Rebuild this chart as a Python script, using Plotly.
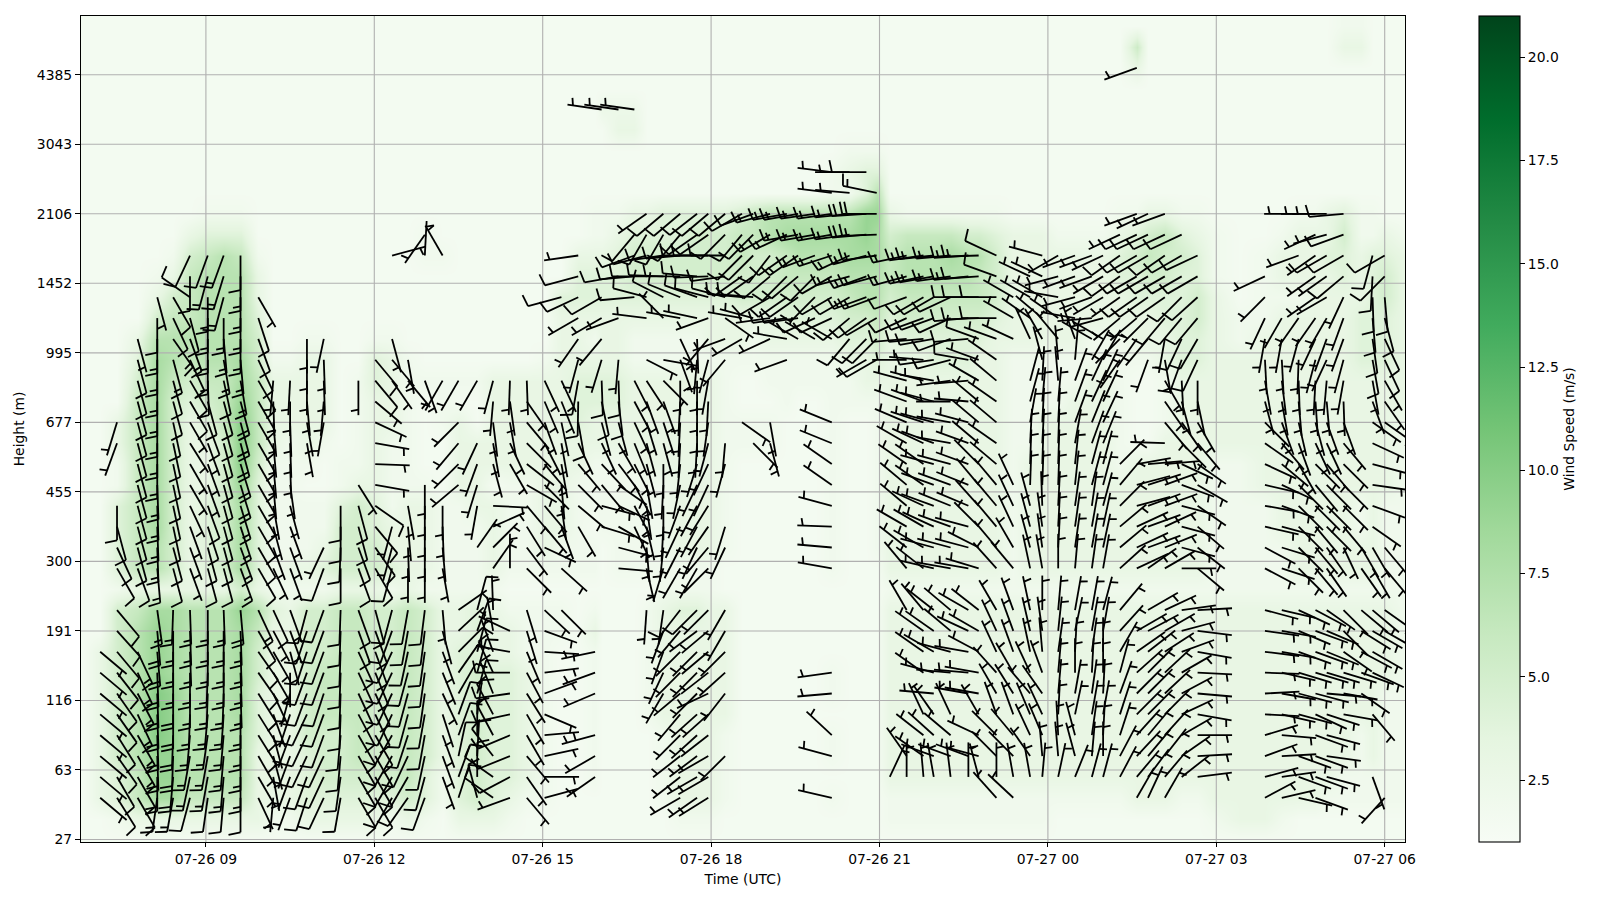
import math
from datetime import datetime, timedelta
import plotly.graph_objects as go

_ = None
b = 1.5

# sampling times of each profile column, minutes after 07-26 00:00
col_minutes = [410,427,445,467,488,505,523,542,559,577,596,612,630,648,666,684,703,721,739,756,774,
               793,810,830,847,865,883,902,920,938,956,963,981,998,1011,1029,1047,1065,1077,1095,1113,
               1125,1143,1161,1173,1191,1209,1228,1246,1257,1271,1289,1307,1318,1336,1355,1366,1385,1403,1421,1434,
               1451,1469,1487,1499,1517,1535,1547,1565,1583,1600,1618,1645,1672,1690,1708,1726,1738,1756,1775,1787,
               1800,1822]
height_labels = [27,63,116,191,300,455,677,995,1452,2106,3043,4385]
time_tick_minutes = [540,720,900,1080,1260,1440,1620,1800]

# wind direction (deg, the way the staff points) per column: {level: [values going down three levels at a time]}
d01 = {27:[130,130,130,130,130,130,130,130]}
d02 = {60:[197,200],48:[180,165,155,150],33:[140,138,140,142,145,145,148,145,150,148]}
d03 = {72:[165,165,165,165,165,165,165,165,165,165,165,160],27:[155,155,152,155,150,150,150,150]}
d04 = {78:[165,180,180,180,180,180,180,180,180,178,178,178,178,175],33:[172,175,175,178,178,178,178,178,180,188]}
d05 = {78:[150,155,145,165,165,165,168,168,168,168,168,168,165,165],33:[182,180,180,180,180,180,182,182,185,190]}
d06 = {84:[205,180,305,165,160,155,150,150,150,148,150,150,155,160,160,160],33:[178,178,178,180,180,182,185,190,192,195]}
d07 = {84:[200,195,180,180,180,180,178,165,160,160,160,160,160,162,165,165],33:[180,180,180,182,182,185,188,190,190,188]}
d08 = {84:[200,197,195,180,175,170,168,165,165,165,165,165,165,165,165,165],33:[178,180,180,180,182,184,185,185,185,185]}
d09 = {84:[180,180,180,180,180,175,170,165,165,165,163,163,163,162,160,160],33:[175,178,178,178,178,180,180,180,180,180]}
d10 = {78:[150,162,160,155,150,150,150,150,150,150,150,150,150,150],33:[155,150,145,145,148,148,148,150,150,155]}
d11 = {66:[185,178,175,175,175,175,170,165,160,155],33:[155,152,150,150,155,160,165,165,170,185]}
d12 = {66:[183,180,178,178,178,172,165,160,160,160],33:[160,160,165,180,195,198,200,200,200,200]}
d13 = {72:[180,180,180,175,170,170],33:[195,198,198,200,200,205,205,205,200,198]}
d14 = {72:[192,178,178,185,190],42:[205,200],33:[200,200,200,200,198,200,200,205,205,205]}
d15 = {48:[180,180,182,180],33:[182,182,182,182,182,182,185,185,188,190]}
d16 = {66:[180],51:[148,165,165,160,160],33:[160,160,155,155,155,152,150,150,150,150]}
d17 = {69:[140,140,130,115,100,92,100,125,140,145,150],33:[165,160,160,158,155,155,150,150,150,150]}
d18 = {84:[75],72:[165,140,145],45:[195,195,195],33:[195,200,205,205,205,205,210,210,210,210]}
d19 = {69:[170,140],48:[170,175,178,180],33:[190,190,192,195,195,195,198,205,210,215]}
d20 = {87:[215,3],66:[160],51:[180,180,180,180,180],33:[187,187,188,188,188,190,190,192,195,200]}
d21 = {84:[330],66:[210],48:[180,178,175,170],33:[175,165,160,158,155,162,160,160,160]}
d22 = {66:[210],60:[225,220,225,230],33:[55,47,45,35,30,20,20,12,20,18]}
d23 = {66:[210],57:[205,200,197,190],42:[35],33:[15,20,15,15,15,8,0,3,0,345]}
d24 = {66:[195,185,173,170,165],48:[93,66,45,35],33:[358,350,340,335,338,332,332,322,305,305]}
d25 = {66:[182,172,170,155,150],39:[0],30:[295,280,270,262,258,247,248,242,250]}
d26 = {66:[178,145,140,135,128,120,140,148,143,135],33:[163,163,157,152,148,150,150,140,145,140]}
d27 = {66:[155,157,160,153,140,135,140,140,115],33:[133,110,94,83,70,113,85,78,90,75]}
d28 = {78:[255],66:[155,158,168,170,170,175,172,160],39:[132],33:[135]}
d29 = {84:[262,255,245,240,215,195,190,181,170,155,140,135,130,150]}
d30 = {27:[258,250,247],15:[255,240,235]}
d31 = {105:[278],78:[240,240,220,197,178,168,165,155,137,140,105,107]}
d32 = {105:[278],81:[260],75:[250],69:[185,178,173,165,150,143,125,115,120,105,95]}
d33 = {105:[278],87:[220,250,265,265],66:[153,152,155,158,153,152,152,155]}
d34 = {90:[235,210,255,270,285,277],69:[117,147,160,163,165,165,170,172,167,175,167],33:[184]}
d35 = {90:[230,210,262,272,297,315],69:[100,135,160,162,165,180,183,180,183,186,197],33:[188,200,200,205,210]}
d36 = {90:[230,220,265,270,292,280,155,160,180,183,183,183,186,192,200,205,207,210],33:[218,220,225,225,230,220,225,232,232,240]}
d37 = {90:[232,235,270,275,290,282,178,185,180,180,180,183,197,205,208,208,205,210],33:[225,233,225,225,225,228,228,233,240,235]}
d38 = {90:[230,235,270,268,285,250,220,195,190,183,188,195,205,205,212,215,220,225],33:[225,230,230,232,245,228,232,240,240,238]}
d39 = {90:[230,225,270,262,285,125,250,220],57:[185,195],45:[197,205],33:[210,210,225,228,218],12:[225]}
d40 = {90:[240,220,225,235,275,280,240],60:[125]}
d41 = {90:[250,225,225,235,275,285],57:[135]}
d42 = {90:[255,240,218,230,240,262,245],60:[170,165]}
d43 = {90:[260,245,235,225,235,262,280,250]}
d44 = {90:[260,260,235,230,235,262,300]}
d45 = {90:[262,260,250,225,225,245,300]}
d46 = {96:[277,277,262,260,252,240,240,245,300],60:[292,292,305,305,285,272,275,280],24:[262,265],15:[313,285],6:[283]}
d47 = {96:[270,275,264,262,245,255,240,230,220]}
d48 = {96:[270],90:[266,265,255,250,250,235,225,240]}
d49 = {93:[282,270,268,262,255,250,240,225,240]}
d50 = {9:[25]}
d51 = {84:[258,255,250,245,265,270,285,290,293,300,305,310,310,300,308,320],33:[330],12:[325,0]}
d52 = {84:[262,258,240,250,265,275,285,290,288,295,305,305,295,300,300,308],33:[320,305,305,305],18:[335,308,305,355]}
d53 = {84:[264,260,240,250,260,262,280,285,285,290,285,290,290,295,285,283],33:[308,305,300,285,275,325,312,290,350]}
d54 = {84:[265,262,245,245,250,255,262,270,280,280,285,290,292,290,285,280],33:[310,310,285,275],18:[335,310,290,353]}
d55 = {84:[266,264,270,265,265,280,265,275,285,290,290,292,293,285,285,280],33:[300,295,280,275,280],12:[290,0]}
d56 = {84:[268,266,270,268,290,290,300,310,310,310,315,320,318,315,297,287],33:[308,300,298,280,280,330,295,285,345]}
d57 = {84:[295,290,270,270,290,305,310,305,310,305,310,320,320,320,320,318],33:[330,335,335,318,330,340,315,315,0,318]}
d58 = {78:[300,300,295],51:[335,335,335,330,320],33:[340,340,340,330,328,340,320,315,350,313]}
d59 = {81:[295,300,305,335],66:[15,15,10,3,2,2,345,345,345,348],33:[348,347,348,335,320,337,335,325,350]}
d60 = {84:[285,295,300,310,330,345,3,5,3,3,2,2,358,352,352,350],33:[0,352,355,340,325,335,337,355,5]}
d61 = {84:[240,255,280,305,320,355,355,5,3,2,2,2,3,3,3,0],33:[5,6,8,5,5,3,357,355,12]}
d62 = {84:[250,250,255,280,340,5,20,20,20,10,6,6,8,8,8,5],33:[10,12,3,0,10,12,345,345,22]}
d63 = {84:[250,250,250,265,300,30,25,25,22,20,15,15,8,10,10,8],33:[10,10,8,3,8,10,8,5,15]}
d64 = {84:[245,240,240,255,300,30,25,25,25,22,15,15,15,12,12,10],33:[15,10,0,0,3,10,3,0,15]}
d65 = {87:[245,235,235,235,230,225,215],54:[45,40,45,50,50,48],33:[40,42,30,15,20,18,18,28,28]}
d66 = {111:[250],90:[250,245,240,240,235,230,215],54:[80,75,75,65,65,65],30:[60,55,48,45,45,42,43,40,30]}
d67 = {90:[245,245,240,240,235,225,220,200],54:[85,72,70,70,70,55],33:[60,62,52,45,45,45,40,40,37,25]}
d68 = {90:[250,245,235,240,235,220,190,170,150,145,140,272,85,70,70,65,68,60],33:[65,60,57,47,47,45,42,38,40,30]}
d69 = {87:[245,240,240,225,220,205,200,177,165,145,135,115,110,105,105,105,90],33:[82,75,70,60,62,65,60,55,52]}
d70 = {84:[245,240,228,220,210,205,180,168,150,140,125,120,125,130,128,130],33:[87,97,100,93,95,100,90,87,83]}
d73 = {81:[245,225,205,190,177,170,165,135,125,115,103,100,103,118,118],33:[105,98,97,92,87,93,73,70,75,62]}
d74 = {75:[210,190,177,173,170,160,140,130,115,110,105,107,108],33:[103,100,100,103,100,103,95,87,82,77]}
d75 = {90:[270],84:[250],75:[215,195,182,178,175,167,160,150,135,135,135,135,135],33:[115,113,110,107,105,105],12:[110,110,103]}
d76 = {90:[270,245,235,235,235,215,205,195,183,176,165,155,135,140,135,140,140,140],33:[118,110,110,107,105,115,110,110,110,110]}
d77 = {90:[270,255,240,235,240,210,200,205,185,175,160,155,140,135,135,135,145,145],33:[125,113,112,107,95,108,105,98,105]}
d78 = {90:[265,250,240,230,205,200,200,195,190,178,160,140,135,135,135,140,155],33:[135,135,125,107,100,100]}
d79 = {42:[150,145],33:[130,122,118,110,125]}
d80 = {84:[195,183,178,175,172,170,170,160,125,115,105,98,110,125,150,150],33:[130,120,120,115],18:[140],9:[160]}
d81 = {84:[240,225,175,165,155,155,150,145,125],42:[140,140],33:[125,120],6:[222]}

# wind speed (m/s) per column, from level 90 downward three levels at a time; the rest is calm
s01 = [b,b,b,b,b,b,b,b,b,b,b,b,b,b,b,b,b,b,b,b,b,3,3,3,3,3,3,3,3,b]
s02 = [b,b,b,b,b,b,b,b,b,b,3,3,2,2,4,4,4,4,2,5,5,5,5,5,5,5,5,4,4,2]
s03 = [b,b,b,b,b,b,3,4,5,6,6,6,6,6,6,6,6,6,3,6,7,7,7,7,7,7,7,6,6,3]
s04 = [b,b,b,2,3,5,7,8,8,8,8,8,8,8,8,8,7,7,3,8,9,9,9,10,10,10,9,9,8,3]
s05 = [b,b,2,3,5,6,7,7,6,5,5,5,5,5,5,5,5,5,3,8,8,8,8,9,9,9,9,9,8,3]
s06 = [b,3,5,6,6,6,7,6,5,4,3,3,3,3,3,3,3,3,3,7,7,7,7,7,7,7,7,7,6,3]
s07 = [2,4,6,7,7,7,7,7,6,5,4,3,3,3,4,4,4,4,3,7,7,7,7,7,7,7,7,7,6,3]
s08 = [2,4,7,7,7,7,7,7,6,6,6,5,5,5,5,5,5,5,3,7,7,7,7,7,7,7,7,7,6,3]
s09 = [2,4,6,7,7,7,7,8,8,9,10,10,10,9,8,8,8,8,5,9,8,8,8,8,8,7,7,7,6,3]
s10 = [b,b,2,3,3,4,5,5,6,6,6,6,5,4,4,4,4,4,3,7,6,5,5,4,4,4,3,3,3,3]
s11 = [b,b,b,b,b,b,b,2,3,3,3,3,2,2,2,2,2,2,2,4,3,3,3,3,3,3,3,3,3,2]
s12 = [b,b,b,b,b,b,b,2,3,3,3,2,2,2,2,2,2,3,2,3,3,3,3,3,3,3,3,3,3,2]
s13 = [b,b,b,b,b,b,2,3,3,3,3,3,2,b,2,2,2,3,2,5,5,5,5,5,5,5,4,4,4,3]
s14 = [b,b,b,b,b,b,2,3,3,3,3,2,b,b,2,2,3,4,2,5,5,5,6,6,6,5,5,5,4,3]
s15 = [b,b,b,b,b,b,b,b,b,b,b,b,2,2,4,5,5,5,3,6,6,6,6,6,6,5,5,5,4,3]
s16 = [b,b,b,b,b,b,b,b,2,2,2,2,2,3,5,5,5,5,3,6,6,6,6,6,6,6,6,5,4,3]
s17 = [b,b,b,b,b,b,2,4,4,3,3,3,3,3,4,4,5,5,3,5,5,5,5,5,5,5,5,5,4,3]
s18 = [b,b,b,b,b,b,2,3,3,3,3,2,2,2,2,3,3,4,2,5,5,5,5,5,5,5,5,5,4,2]
s19 = [b,b,b,b,b,b,b,2,2,2,2,2,2,2,3,3,3,3,3,6,6,6,6,6,6,6,6,6,5,3]
s20 = [b,2,2,b,b,b,b,b,2,b,b,b,b,2,3,3,3,3,2,5,5,5,5,5,5,5,5,4,4,2]
s21 = [b,b,2,b,b,b,b,b,2,2,2,b,b,b,2,2,2,2,2,3,3,3,3,3,3,3,3,2,2,b]
s22 = [b,b,b,b,b,b,b,b,2,b,3,3,3,3,2,2,2,2,2,3,3,4,4,4,4,4,4,4,4,3]
s23 = [b,b,b,b,b,b,b,b,2,b,b,3,3,3,3,2,2,2,2,4,4,4,5,5,5,5,5,5,5,3]
s24 = [b,b,b,b,b,b,b,b,3,3,3,3,3,b,3,3,3,3,2,3,3,3,4,4,4,4,4,4,4,3]
s25 = [b,b,b,b,b,b,b,b,3,3,3,3,3,2,2,2,2,2,b,2,3,3,4,4,4,4,4,4,3,2]
s26 = [b,b,b,b,b,b,b,b,3,3,3,3,3,2,2,2,2,2,b,2,2,2,3,3,3,3,3,3,2,b]
s27 = [b,b,b,b,b,b,b,2,3,3,3,3,3,3,3,3,3,2,b,2,2,2,2,2,2,2,2,2,2,b]
s28 = [b,b,b,b,4,3,3,3,3,3,3,3,3,3,3,3,2,2,b,2,2]
s29 = [b,b,3,4,4,3,3,3,4,4,4,3,3,2,2,2,2,2]
s30 = [2,2,3,4,4,3,2,3,4,4,3,3,2,2,2,b,2,2,b,2,3,2,2,2,2,2,2,2]
s31 = [2,2,3,4,4,3,3,3,4,4,3,3,2,2,2,2]
s32 = [2,3,4,4,4,3,3,3,4,4,3,3,2,2,2,2,2,2]
s33 = [3,4,5,5,4,3,2,2,3,3,3,3,2,2,2,2,2,2]
s34 = [3,4,5,5,4,3,2,2,3,3,3,3,3,2,2,2,2,2,b,2,2,2,2,2,2]
s35 = [4,4,5,5,4,3,2,2,3,3,3,3,3,2,2,2,2,2,2,3,3,3,3,3,3,2,2,2,2]
s36 = [4,4,5,5,4,3,2,2,3,3,3,3,3,3,3,3,3,2,2,4,3,3,3,3,3,3,3,3,3,2]
s37 = [4,5,5,5,4,3,2,2,3,3,3,3,3,3,3,3,3,2,2,4,3,3,3,3,3,3,3,3,3,2]
s38 = [4,5,5,5,4,3,3,2,3,3,3,3,3,3,3,3,3,2,2,3,3,3,3,3,3,3,3,3,3,2]
s39 = [4,5,5,5,4,3,3,2,2,2,2,2,2,2,2,2,2,b,b,3,3,3,3,3,3,2,2,2,2]
s40 = [5,6,6,5,5,3,3,2,b,b,2,2]
s41 = [6,6,5,5,5,3,2,2,b,b,2,2]
s42 = [7,7,5,5,5,3,3,2,2,b,2,2]
s43 = [7,8,6,6,5,4,3,2,2,2]
s44 = [7,8,7,6,5,4,3,2,2]
s45 = [7,8,7,6,5,4,3,2,2]
s46 = [7,8,7,6,5,4,3,2,2,2,2,2,2,2,2,2,2,2,b,b,b,b,2,2,b,2,2,b,2]
s47 = [7,8,8,7,6,5,4,3,2,2]
s48 = [9,9,8,7,7,5,4,3,3,2]
s49 = [9,8,8,7,7,6,5,4,3,2,2,2,2,2,2,2,2]
s50 = [3,5,6,6,5,4,3,3,3,3,3,3,3,3,3,3,3,3,2,3,3,3,3,3,3,3,3,3,2,2]
s51 = [2,6,7,7,6,5,4,3,3,3,3,3,3,3,3,3,3,3,2,3,3,3,3,3,3,3,3,3,2,2]
s52 = [2,6,7,7,6,5,4,3,3,3,3,3,3,3,3,3,3,3,2,3,3,3,3,3,3,3,3,3,2,2]
s53 = [2,6,7,7,6,5,4,4,3,3,3,3,3,3,3,3,3,3,2,3,3,3,3,3,3,3,3,3,2,2]
s54 = [2,6,8,7,6,5,4,4,3,3,3,3,3,3,3,3,3,3,2,3,3,3,3,3,3,3,3,3,2,2]
s55 = [2,5,7,7,6,5,4,4,3,3,3,3,3,3,3,3,3,3,2,3,3,3,3,3,3,3,3,3,2,2]
s56 = [2,5,7,6,6,5,4,3,3,3,3,3,3,3,3,3,3,3,2,3,3,3,3,3,3,3,3,3,2,2]
s57 = [2,4,5,5,5,4,3,3,3,3,3,3,3,3,3,3,3,3,2,3,3,3,3,3,3,3,3,3,2,2]
s58 = [b,3,3,3,3,3,3,2,2,2,2,2,2,2,2,2,2,2,2,3,3,3,3,3,3,3,3,3,2,2]
s59 = [b,3,3,3,3,3,3,2,2,2,2,2,3,3,3,3,3,3,2,3,3,3,3,3,3,3,3,3,2,2]
s60 = [b,3,3,3,3,3,3,2,2,2,3,3,3,3,3,3,3,3,2,3,3,3,3,3,3,3,3,3,2,2]
s61 = [b,2,3,3,3,3,3,2,2,2,3,3,3,3,3,3,3,3,2,3,3,3,3,3,3,3,3,3,2]
s62 = [b,2,3,3,3,3,3,2,2,3,3,3,3,3,3,3,3,3,2,3,3,3,3,3,3,3,3,3,2]
s63 = [b,2,3,3,3,3,2,2,3,3,3,3,3,3,3,3,3,3,2,3,3,3,3,3,3,3,3,3,2]
s64 = [b,2,3,3,3,3,2,2,3,3,3,3,3,3,3,3,3,3,2,3,3,3,3,3,3,3,3,3,2]
s65 = [2,3,4,4,3,3,2,2,2,2,2,2,2,3,3,3,3,3,2,3,3,3,3,3,3,3,3,3,2]
s66 = [2,4,5,4,4,3,3,2,b,b,b,b,3,3,3,3,3,3,2,3,3,3,3,3,3,3,3,3,3]
s67 = [3,5,6,5,4,3,3,2,b,b,b,b,3,3,3,3,3,3,2,3,3,3,3,3,3,3,3,3,3]
s68 = [3,6,5,5,4,4,3,3,2,2,2,3,3,3,3,3,3,3,2,3,3,3,3,3,3,3,3,3,3]
s69 = [2,4,5,4,4,4,4,4,3,3,3,3,3,3,3,3,3,3,2,3,3,3,3,3,3,3,3,3,2]
s70 = [2,3,4,4,5,5,4,4,3,3,3,3,3,3,3,3,3,3,2,3,3,3,3,3,3,3,3,3,2]
s71 = [b,2,2,2,3,3,3,3,3,3,3,3,2,2,2,2,2,2,2,3,3,3,3,3,3,3,3,3,3,2]
s72 = [b,b,b,b,b,2,2,3,3,3,3,3,2,2,2,2,2,2,2,3,3,3,3,3,3,3,3,3,3,3]
s73 = [b,b,2,2,2,2,3,3,3,3,3,3,3,3,2,2,2,2,2,3,3,3,3,3,3,3,3,3,3,3]
s74 = [b,2,3,3,2,3,3,3,3,3,3,3,3,3,3,3,2,2,2,3,3,3,3,3,3,3,3,3,3,2]
s75 = [2,3,3,3,2,3,3,3,3,3,3,3,3,3,3,3,3,3,2,3,3,3,3,3,3,3,3,3,3]
s76 = [2,3,3,3,3,3,3,3,3,3,3,3,3,3,3,3,3,3,2,3,3,3,3,3,3,3,3,3,3]
s77 = [3,3,4,3,3,3,3,3,3,3,3,3,3,3,3,3,3,3,2,3,3,3,3,3,3,3,3,3,2]
s78 = [4,5,4,4,3,3,3,3,3,3,3,3,3,3,3,3,3,3,2,3,3,3,3,3,3,3,3,2,2]
s79 = [2,2,3,3,3,4,4,4,3,3,3,3,3,3,2,2,3,3,2,3,3,3,3,3,3,2,2,2,2]
s80 = [2,2,4,4,4,4,4,4,3,3,3,3,3,3,3,3,3,3,2,3,3,3,3,3,3,3,3,2,2]
s81 = [b,3,4,5,5,4,4,4,3,3,3,3,3,3,2,2,2,2,2,3,3,3,3,2,2,2,2,2,2]
s82 = [b,2,3,3,3,3,3,3,3,3,2,2,2,2,2,2,2,2,2,2,2,2,2,2,2,2,2,2,2]

# speeds above level 90: {level: {column: value}}
high_speed = {93:{46:2,47:2,48:4,49:7},96:{46:2,47:3,48:4,49:4},99:{47:2,48:2,49:2},
              102:{32:3,33:3},105:{31:2.5,32:2.5,33:2.5},111:{66:3},114:{66:5.5,78:3,79:3},117:{78:2,79:2}}

level_list = list(range(0, 120, 3))
n_cols = len(col_minutes)


def speed_at(col, level):
    if level > 90:
        return high_speed.get(level, {}).get(col, b)
    if level < 3:
        return b
    row = globals().get(f"s{col:02d}", [])
    i = (90 - level) // 3
    return row[i] if i < len(row) else b


z = [[speed_at(c, lev) for c in range(n_cols)] for lev in level_list]

# axis frame of the picture
PLOT_L, PLOT_R, PLOT_T, PLOT_B = 80.7, 1405.0, 16.3, 842.0
X_RANGE = (406.5, 1821.7)
Y_RANGE = (-0.36, 118.45)
MIN_PER_PX = (X_RANGE[1] - X_RANGE[0]) / (PLOT_R - PLOT_L)
LEV_PER_PX = (Y_RANGE[1] - Y_RANGE[0]) / (PLOT_B - PLOT_T)
BASE = datetime(2024, 7, 26)


def stamp(m):
    return (BASE + timedelta(minutes=m)).isoformat(sep=" ")


# wind barbs: staff from the sample point, ticks at the far end on the right-hand side
STAFF = 34.5
bx, by = [], []


def seg(m, lev, p0, p1):
    bx.extend([stamp(m + p0[0] * MIN_PER_PX), stamp(m + p1[0] * MIN_PER_PX), None])
    by.extend([lev + p0[1] * LEV_PER_PX, lev + p1[1] * LEV_PER_PX, None])


for c in range(n_cols):
    for top, vals in globals().get(f"d{c:02d}", {}).items():
        for k, deg in enumerate(vals):
            if deg is None:
                continue
            lev = top - 3 * k
            m = col_minutes[c]
            ux, uy = math.sin(math.radians(deg)), math.cos(math.radians(deg))
            rx, ry = uy, -ux
            seg(m, lev, (0, 0), (STAFF * ux, STAFF * uy))
            n5 = max(1, round(speed_at(c, lev) / 2.57))
            full, half = n5 // 2, n5 % 2
            pos = STAFF
            for _i in range(full):
                s0 = (pos * ux, pos * uy)
                seg(m, lev, s0, (s0[0] + 12 * rx + 2.5 * ux, s0[1] + 12 * ry + 2.5 * uy))
                pos -= 4.5
            if half:
                if full == 0:
                    pos = STAFF - 5.5
                s0 = (pos * ux, pos * uy)
                seg(m, lev, s0, (s0[0] + 7.5 * rx + 1.5 * ux, s0[1] + 7.5 * ry + 1.5 * uy))

# grid lines sit above the colour image and below the barbs
gx, gy = [], []
for m in time_tick_minutes:
    gx += [stamp(m), stamp(m), None]
    gy += [Y_RANGE[0], Y_RANGE[1], None]
for i in range(len(height_labels)):
    gx += [stamp(X_RANGE[0]), stamp(X_RANGE[1]), None]
    gy += [i * 10, i * 10, None]

greens = ["#f7fcf5", "#e5f5e0", "#c7e9c0", "#a1d99b", "#74c476", "#41ab5d", "#238b45", "#006d2c", "#00441b"]
colorscale = [[i / 8, col] for i, col in enumerate(greens)]
FONT = dict(family="DejaVu Sans", size=13.9, color="black")

fig = go.Figure()
fig.add_trace(go.Heatmap(
    x=[stamp(m) for m in col_minutes], y=level_list, z=z, zmin=1, zmax=21, zsmooth="best",
    colorscale=colorscale, hoverinfo="skip",
    colorbar=dict(x=(1478.6 - PLOT_L) / (PLOT_R - PLOT_L), xanchor="left", xpad=0, ypad=0, y=0.5, yanchor="middle",
                  len=1, lenmode="fraction", thickness=41, thicknessmode="pixels",
                  outlinecolor="black", outlinewidth=1.1, ticks="outside", ticklen=5, tickwidth=1.1, tickcolor="black",
                  tickvals=[2.5, 5, 7.5, 10, 12.5, 15, 17.5, 20],
                  ticktext=["2.5", "5.0", "7.5", "10.0", "12.5", "15.0", "17.5", "20.0"],
                  tickfont=FONT, title=dict(text="Wind Speed (m/s)", side="right", font=FONT)),
))
fig.add_trace(go.Scatter(x=gx, y=gy, mode="lines", line=dict(color="#b0b0b0", width=1.1), hoverinfo="skip", showlegend=False))
fig.add_trace(go.Scatter(x=bx, y=by, mode="lines", line=dict(color="black", width=1.8), hoverinfo="skip", showlegend=False))

fig.update_layout(
    width=1600, height=900, autosize=False, paper_bgcolor="white", plot_bgcolor="white", font=FONT, showlegend=False,
    margin=dict(l=PLOT_L, r=1600 - PLOT_R, t=PLOT_T, b=900 - PLOT_B, pad=0),
    xaxis=dict(type="date", range=[stamp(X_RANGE[0]), stamp(X_RANGE[1])], tickvals=[stamp(m) for m in time_tick_minutes],
               tickformat="%m-%d %H", ticks="outside", ticklen=4, tickwidth=1.1, tickcolor="black", showgrid=False,
               zeroline=False, showline=True, linecolor="black", linewidth=1.1, mirror=True,
               title=dict(text="Time (UTC)", font=FONT, standoff=8), tickfont=FONT),
    yaxis=dict(range=list(Y_RANGE), tickvals=[i * 10 for i in range(len(height_labels))],
               ticktext=[str(h) for h in height_labels], ticks="outside", ticklen=5, tickwidth=1.1, tickcolor="black",
               showgrid=False, zeroline=False, showline=True, linecolor="black", linewidth=1.1, mirror=True,
               title=dict(text="Height (m)", font=FONT, standoff=8), tickfont=FONT),
)

fig.write_html("out.html", config={"displayModeBar": False},
               post_script="document.body.style.margin='0';document.body.style.overflow='hidden';")
